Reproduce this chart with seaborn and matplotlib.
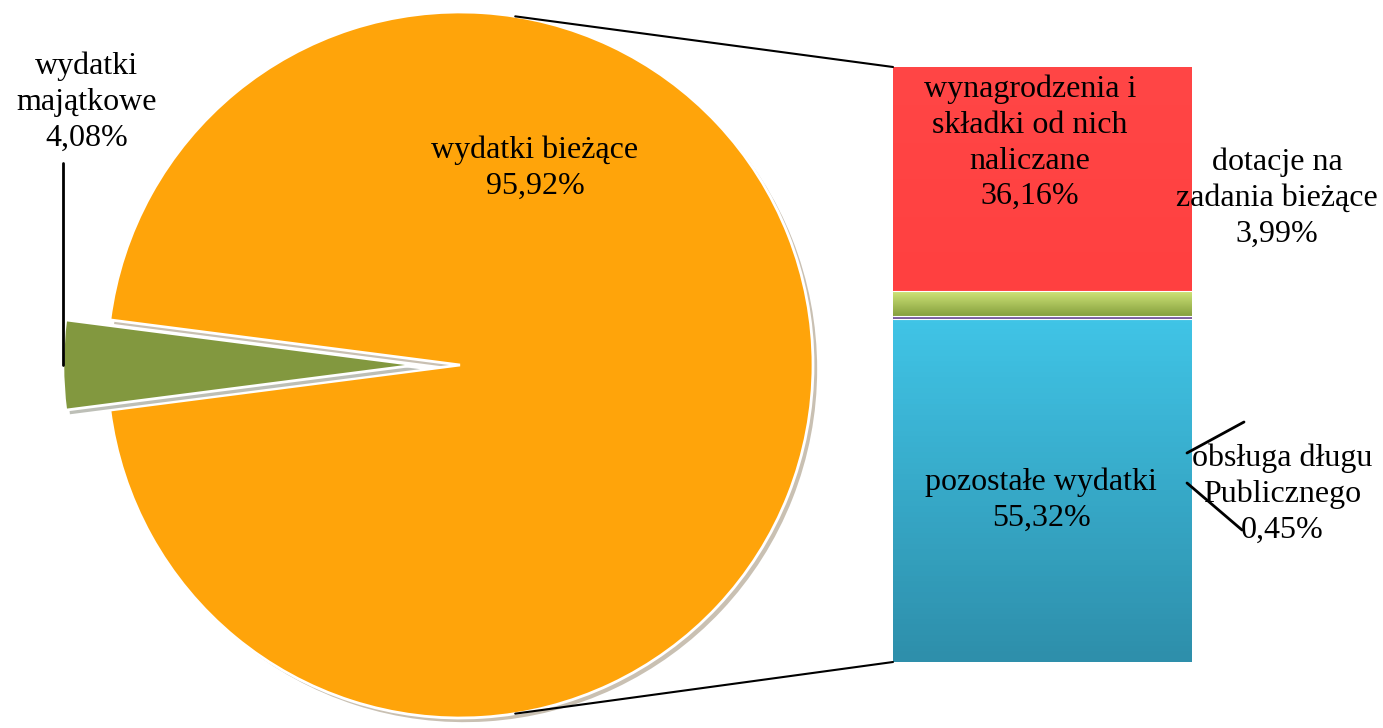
import numpy as np
import matplotlib
matplotlib.use('Agg')
import matplotlib.pyplot as plt
import seaborn as sns
from matplotlib.patches import ConnectionPatch
from matplotlib import patheffects as pe
from matplotlib.lines import Line2D
from matplotlib.colors import LinearSegmentedColormap

# pie: main split of expenses
pie_labels = ['wydatki bieżące\n95,92%', 'wydatki\nmajątkowe\n4,08%']
pie_values = [95.92, 4.08]
pie_colors = ['#FFA40A', '#82983F']

# bar: breakdown of "wydatki bieżące", bottom to top
bar_labels = ['pozostałe wydatki\n55,32%', 'obsługa długu\nPublicznego\n0,45%',
              'dotacje na\nzadania bieżące\n3,99%', 'wynagrodzenia i\nskładki od nich\nnaliczane\n36,16%']
bar_values = [55.32, 0.45, 3.99, 36.16]
# (top colour, bottom colour) of each segment
bar_colors = [('#40C4E6', '#2E8FAB'), ('#8A6CB5', '#6E5296'),
              ('#CFE478', '#86A03E'), ('#FF4646', '#FF4040')]

W, H = 1383, 728
sns.set_style('white')
plt.rcParams['font.family'] = ['Liberation Serif', 'DejaVu Serif']

fig = plt.figure(figsize=(W / 100, H / 100), dpi=100)

# pie axes covers the whole figure, 1 unit = 353 px
R = 353.0
cx, cy = 460.0, 365.0
ax_pie = fig.add_axes([0, 0, 1, 1])
wedges, _ = ax_pie.pie(pie_values, colors=pie_colors, startangle=-pie_values[0] / 100 * 180,
                       explode=[0, 0.125], radius=1,
                       wedgeprops=dict(edgecolor='white', linewidth=2))
for w in wedges:
    w.set_path_effects([pe.SimplePatchShadow(offset=(3, -3), alpha=0.3), pe.Normal()])
ax_pie.set_xlim(-cx / R, (W - cx) / R)
ax_pie.set_ylim(-(H - cy) / R, cy / R)
ax_pie.axis('off')

# stacked bar
ax_bar = fig.add_axes([893 / W, (H - 662) / H, 299 / W, 595 / H])
total = sum(bar_values)
bottom = 0
for v, (ctop, cbot) in zip(bar_values, bar_colors):
    bars = ax_bar.bar(0, v, bottom=bottom, width=1, color=cbot, linewidth=0, zorder=1)
    p = bars[0]
    p.set_path_effects([pe.SimplePatchShadow(offset=(3, -3), alpha=0.3), pe.Normal()])
    cmap = LinearSegmentedColormap.from_list('g', [cbot, ctop])
    grad = np.linspace(0, 1, 64).reshape(-1, 1)
    im = ax_bar.imshow(grad, cmap=cmap, origin='lower', aspect='auto',
                       extent=(-0.5, 0.5, bottom, bottom + v), zorder=2)
    im.set_clip_path(p)
    bottom += v
# white separators between segments
for yb in np.cumsum(bar_values)[:-1]:
    ax_bar.axhline(yb, color='white', linewidth=0.8, zorder=3)
ax_bar.set_xlim(-0.5, 0.5)
ax_bar.set_ylim(0, total)
ax_bar.axis('off')

# connector lines pie -> bar
ang = np.deg2rad(81)
for sgn, yb in [(1, 1), (-1, 0)]:
    con = ConnectionPatch(xyA=(np.cos(ang), sgn * np.sin(ang)), coordsA=ax_pie.transData,
                          xyB=(-0.5, yb), coordsB=ax_bar.get_xaxis_transform(),
                          color='black', linewidth=1.5)
    fig.add_artist(con)

def ftext(x, y, s):
    fig.text(x / W, 1 - y / H, s, ha='center', va='center', fontsize=23,
             linespacing=1.3, color='black')

ftext(535, 168, pie_labels[0])
ftext(87, 102, pie_labels[1])
ftext(1041, 500, bar_labels[0])
ftext(1282, 494, bar_labels[1])
ftext(1277, 198, bar_labels[2])
ftext(1030, 143, bar_labels[3])

# leader lines
def fline(x0, y0, x1, y1):
    fig.add_artist(Line2D([x0 / W, x1 / W], [1 - y0 / H, 1 - y1 / H], color='black',
                          linewidth=2, transform=fig.transFigure))

fline(63, 163, 63, 365)
fline(1187, 453, 1244, 422)
fline(1187, 483, 1242, 530)

fig.savefig('out.png', dpi=100)
